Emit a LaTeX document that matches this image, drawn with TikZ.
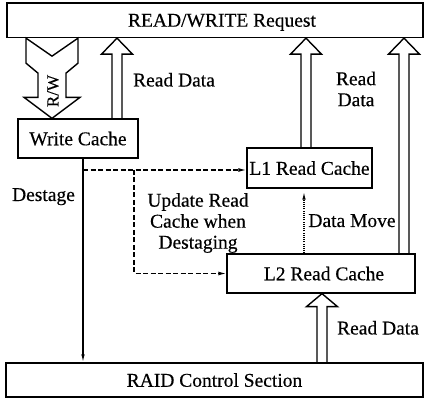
\documentclass[tikz,border=0pt]{standalone}
\usepackage{fontspec}
\setmainfont{Liberation Serif}[FakeBold=0.4]
\usetikzlibrary{arrows.meta,calc}

\newcommand\diagfont{\fontsize{19.5}{21}\selectfont}
\newcommand\rwfont{\fontsize{17}{17}\selectfont}

% hollow block arrow pointing up: #1 foot point, #2 tip point, #3 head length
\newcommand\hollowup[3]{%
  \draw[blk] let \p1=(#1), \p2=(#2) in
    (\x1-5pt,\y1) -- (\x1-5pt,\y2-#3) -- (\x1-15.5pt,\y2-#3) -- (\x1,\y2)
    -- (\x1+15.5pt,\y2-#3) -- (\x1+5pt,\y2-#3) -- (\x1+5pt,\y1);}

\tikzset{
  box/.style={draw, line width=1.3pt, inner sep=0pt, text depth=0pt, font=\diagfont},
  lbl/.style={inner sep=0pt, font=\diagfont},
  blk/.style={line width=1.4pt, line join=miter},
  flow/.style={line width=1.2pt, -{Latex[length=8pt,width=3.5pt]}},
  dsh/.style={line width=1.3pt, dash pattern=on 5pt off 2.5pt, -{Latex[length=8pt,width=4pt]}},
  dotline/.style={line width=1.2pt, dash pattern=on 1pt off 1.2pt, shorten >=3pt, -{Latex[length=8pt,width=3.5pt]}}
}

\begin{document}
\begin{tikzpicture}[x=1pt,y=-1pt]
\useasboundingbox (0,0) rectangle (429,403);

% boxes
\node[box, minimum width=416pt, minimum height=34.5pt] (req) at (215,20.25) {\hspace*{14pt}READ/WRITE Request};
\node[box, minimum width=120pt, minimum height=39pt] (wc) at (78,138.5) {Write Cache};
\node[box, minimum width=125pt, minimum height=40pt] (l1) at (309.5,168) {L1 Read Cache};
\node[box, minimum width=188pt, minimum height=39pt] (l2) at (321,273.5) {\hspace*{6pt}L2 Read Cache};
\node[box, minimum width=417pt, minimum height=34pt] (raid) at (214.5,380) {RAID Control Section};

% R/W request block arrow (notched tail, head down into the write cache)
\draw[blk] let \p1=(req.south), \p2=(wc.north) in
  (26pt,\y1) -- (52pt,\y1-18pt) -- (78pt,\y1) -- (78pt,\y1-25pt) -- (66pt,\y1-35pt)
  -- (66pt,\y2+21pt) -- (80pt,\y2+21pt) -- (52pt,\y2) -- (24pt,\y2+21pt)
  -- (38pt,\y2+21pt) -- (38pt,\y1-35pt) -- (26pt,\y1-25pt) -- cycle;
\node[rotate=90, inner sep=0pt, font=\rwfont] (rw) at (53,91) {R/W};

% read data block arrows
\hollowup{wc.north -| 117,0}{req.south -| 117,0}{16pt}
\hollowup{l1.north -| 306,0}{req.south -| 306,0}{16pt}
\hollowup{l2.north -| 404,0}{req.south -| 404,0}{16pt}
\hollowup{raid.north -| 322,0}{l2.south -| 322,0}{13pt}

% destage path
\coordinate (tap) at (83,170);
\coordinate (bend) at (134,170);
\coordinate (bend2) at (134,273.5);
\draw[flow] (wc.south -| tap) -- (raid.north -| tap);
\draw[dsh] (tap) -- (tap -| l1.west);
\draw[dsh] (bend) -- (bend2) -- (bend2 -| l2.west);

% data move between the read caches
\draw[dotline] (l2.north -| 304,0) -- (l1.south -| 304,0);

% labels
\node[lbl, anchor=base] (rd1) at (174,86.5) {Read Data};
\node[lbl, align=center] (rd2) at (356,89) {Read\\Data};
\node[lbl, anchor=base] (dst) at (43.5,201) {Destage};
\node[lbl, align=center] (upd) at (198,223) {Update Read\\Cache when\\Destaging};
\node[lbl, anchor=base] (dm) at (352,227) {Data Move};
\node[lbl, anchor=base] (rd3) at (378,334.5) {Read Data};
\end{tikzpicture}
\end{document}
